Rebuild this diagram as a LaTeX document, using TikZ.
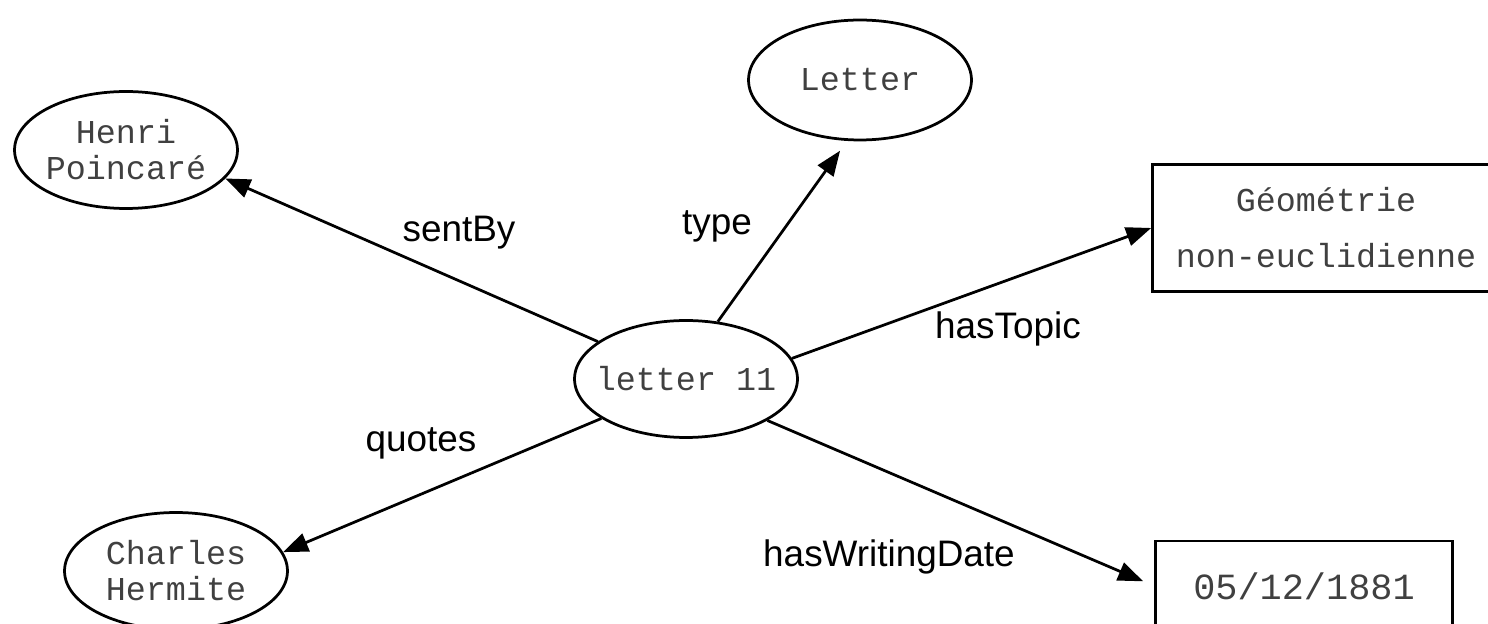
\documentclass[tikz,border=0pt]{standalone}
\usepackage{fontspec}
\setsansfont{Liberation Sans}
\setmonofont{Liberation Mono}
\usetikzlibrary{arrows.meta,shapes.geometric}

\begin{document}
\begin{tikzpicture}[x=0.02cm, y=-0.02cm,
    res/.style={ellipse, draw, line width=0.055cm, inner ysep=0pt, inner xsep=-0.25cm,
      minimum width=4.46cm, minimum height=2.34cm, align=center,
      text=black!75, font=\ttfamily\fontsize{19}{20.5}\selectfont},
    lit/.style={rectangle, draw, line width=0.055cm, inner sep=0pt, align=center,
      text=black!75, font=\ttfamily\fontsize{19}{32}\selectfont},
    lbl/.style={anchor=base, font=\sffamily\fontsize{21}{24}\selectfont},
    arr/.style={line width=0.055cm, -{Triangle[length=0.5cm,width=0.38cm]}}]
    \useasboundingbox (0,0) rectangle (1488,624);
    % resources
    \node[res] (l11) at (686,379) {letter 11};
    \node[res] (henri) at (126,150) {Henri\\Poincaré};
    \node[res, minimum height=2.4cm] (letter) at (860,80) {Letter};
    \node[res] (charles) at (176,571) {Charles\\Hermite};
    % literals
    \node[lit, minimum width=6.94cm, minimum height=2.54cm] (topic) at (1326,228) {Géométrie\\non-euclidienne};
    \node[lit, minimum width=5.94cm, minimum height=1.8cm,
      font=\ttfamily\fontsize{21}{24}\selectfont] (date) at (1304,586) {05/12/1881};
    % properties
    \draw[arr] (l11.157) -- (henri.-16);
    \draw[arr, shorten >=0.24cm] (l11.61) -- (letter.258);
    \draw[arr] (l11.11) -- (topic.west);
    \draw[arr] (l11.205) -- (charles.10);
    \draw[arr, shorten >=0.24cm] (l11.-27) -- (date.west);
    \node[lbl] (sentby) at (459,242) {sentBy};
    \node[lbl] (type) at (717,235) {type};
    \node[lbl] (hastopic) at (1008,339) {hasTopic};
    \node[lbl] (quotes) at (421,452) {quotes};
    \node[lbl] (hasdate) at (889,567) {hasWritingDate};
\end{tikzpicture}
\end{document}
